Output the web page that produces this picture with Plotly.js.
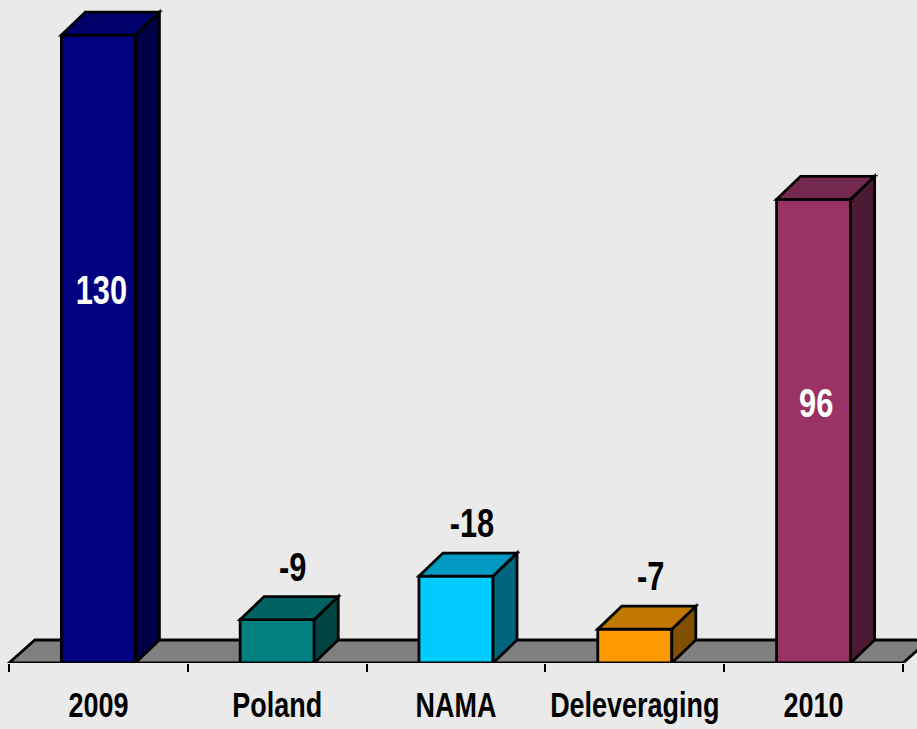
<!DOCTYPE html>
<html><head><meta charset="utf-8">
<script src="https://cdn.plot.ly/plotly-3.0.1.min.js"></script>
<style>html,body{margin:0;padding:0;background:#EAEAEA;overflow:hidden}</style>
</head><body>
<div id="chart" style="width:917px;height:729px"></div>
<script>
const categories = ['2009', 'Poland', 'NAMA', 'Deleveraging', '2010'];
const values = [130, -9, -18, -7, 96];
const frontColors = ['#000080', '#008080', '#00CCFF', '#FF9900', '#993366'];
const topColors = ['#00006A', '#006262', '#0099C2', '#C27800', '#74284E'];
const sideColors = ['#000046', '#004444', '#006680', '#805000', '#4D1A33'];

const W = 917, H = 729, mB = 66;
const xRange = [-0.5503, 4.5783];
const yRange = [0, 137.27];
const pxX = W / (xRange[1] - xRange[0]);
const pxY = (H - mB) / (yRange[1] - yRange[0]);
const depthX = 24 / pxX, depthY = 23 / pxY;
const barW = 0.414;
const heights = values.map(Math.abs);
const xs = categories.map((c, i) => i);
const FONT = '"Liberation Sans", Arial, sans-serif';
const NARROW = 0.77;
const LW = 2.8;

const poly = pts => 'M ' + pts.map(p => p[0] + ',' + p[1]).join(' L ') + ' Z';
const shapes = [];
// floor
shapes.push({
  type: 'path', xref: 'x', yref: 'y', layer: 'below',
  path: poly([[-0.5, 0], [4.5, 0], [4.5 + depthX * 1.08, depthY], [-0.5 + depthX * 1.08, depthY]]),
  fillcolor: '#808080', line: {color: '#000', width: LW}
});
xs.forEach((x, i) => {
  const h = heights[i], x0 = x - barW / 2, x1 = x + barW / 2;
  shapes.push({
    type: 'path', xref: 'x', yref: 'y', layer: 'above',
    path: poly([[x1, 0], [x1, h], [x1 + depthX, h + depthY], [x1 + depthX, depthY]]),
    fillcolor: sideColors[i], line: {color: '#000', width: LW}
  });
  shapes.push({
    type: 'path', xref: 'x', yref: 'y', layer: 'above',
    path: poly([[x0, h], [x1, h], [x1 + depthX, h + depthY], [x0 + depthX, h + depthY]]),
    fillcolor: topColors[i], line: {color: '#000', width: LW}
  });
});

const annotations = xs.map((x, i) => {
  const v = values[i];
  if (v > 0) {
    return {x: x, y: heights[i] * 0.688, xref: 'x', yref: 'y', text: String(v), showarrow: false,
      xshift: 3, yshift: -59, font: {family: FONT, size: 40, color: '#FFFFFF', weight: 700}};
  }
  return {x: x, y: heights[i], xref: 'x', yref: 'y', text: String(v), showarrow: false,
    xshift: 16, yshift: 53, font: {family: FONT, size: 40, color: '#000000', weight: 700}};
});

const trace = {
  type: 'bar', x: xs, y: heights, width: barW,
  marker: {color: frontColors, line: {color: '#000', width: LW}},
  hoverinfo: 'skip', showlegend: false
};
const labelTrace = {type: 'scatter', x: xs, y: heights, xaxis: 'x2', mode: 'none', hoverinfo: 'skip', showlegend: false};

const layout = {
  width: W, height: H,
  margin: {l: 0, r: 0, t: 0, b: mB},
  paper_bgcolor: '#EAEAEA', plot_bgcolor: '#EAEAEA',
  showlegend: false,
  xaxis: {range: xRange, tickmode: 'array', tickvals: [-0.5, 0.5, 1.5, 2.5, 3.5, 4.5],
    showticklabels: false, ticks: 'outside', ticklen: 8, tickwidth: 2, tickcolor: '#000',
    showgrid: false, zeroline: false, showline: false, fixedrange: true},
  xaxis2: {range: xRange, overlaying: 'x', anchor: 'y', side: 'bottom', tickmode: 'array',
    tickvals: xs, ticktext: categories, ticks: '', showgrid: false, zeroline: false, showline: false,
    tickfont: {family: FONT, size: 35, color: '#000', weight: 700}, ticklabelstandoff: 18},
  yaxis: {range: yRange, visible: false, showgrid: false, zeroline: false, fixedrange: true},
  shapes: shapes,
  annotations: annotations,
  bargap: 0
};
Plotly.newPlot('chart', [trace, labelTrace], layout, {displayModeBar: false, staticPlot: true}).then(gd => {
  // narrow the bold sans glyphs to mimic a condensed face
  gd.querySelectorAll('.x2tick text, .annotation-text').forEach(t => {
    const len = t.getComputedTextLength();
    t.setAttribute('textLength', (len * NARROW).toFixed(1));
    t.setAttribute('lengthAdjust', 'spacingAndGlyphs');
  });
});
</script>
</body></html>
